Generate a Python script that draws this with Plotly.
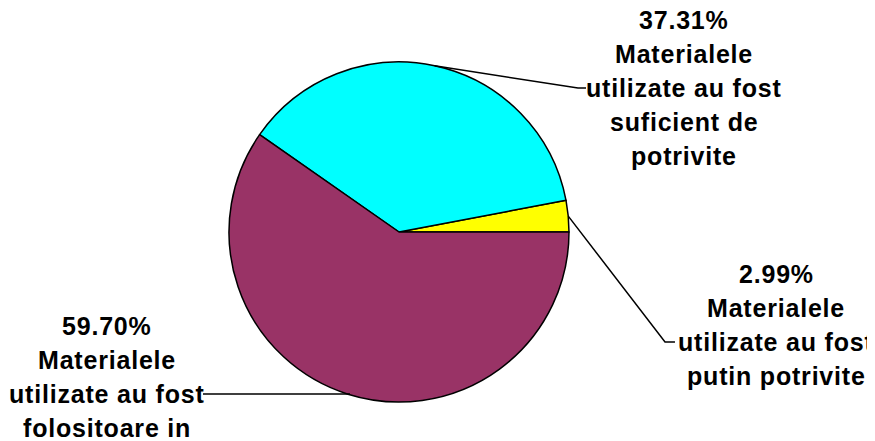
import math
import plotly.graph_objects as go

# ---- data ----
categories = [
    ["Materialele", "utilizate au fost", "putin potrivite"],
    ["Materialele", "utilizate au fost", "suficient de", "potrivite"],
    ["Materialele", "utilizate au fost", "folositoare in"],
]
counts = [2, 25, 40]
colors = ["#FFFF00", "#00FFFF", "#993366"]

# ---- layout constants (page pixels) ----
PAGE_W, PAGE_H = 875, 441
OFF = 8  # default body margin of the html page
W, H = PAGE_W - OFF, PAGE_H - OFF
CX, CY, R = 399, 232, 170
# label x-center and y of the line the leader points to (third line)
label_pos = [(776, 342), (684, 88), (107, 394)]
LINE_GAP = 34
elbows = [(665, 342), (578, 88), (350, 394)]
ends = [(675, 342), (586, 88), (203, 394)]

total = sum(counts)
pct = [100 * c / total for c in counts]


def px2paper(x, y):
    return (x - OFF) / W, 1 - (y - OFF) / H


x0, y1 = px2paper(CX - R, CY - R)
x1, y0 = px2paper(CX + R, CY + R)

fig = go.Figure(
    go.Pie(
        values=counts,
        labels=[" ".join(c) for c in categories],
        sort=False,
        direction="counterclockwise",
        rotation=90 - 360 * counts[0] / total,
        marker=dict(colors=colors, line=dict(color="black", width=1.5)),
        textinfo="none",
        hoverinfo="label+percent",
        showlegend=False,
        domain=dict(x=[x0, x1], y=[y0, y1]),
    )
)

font = dict(family="Liberation Sans, Arial, sans-serif", size=25, color="black")
annotations = []
shapes = []
start = 0.0
for i, c in enumerate(counts):
    ang = 360 * c / total
    mid = math.radians(start + ang / 2)
    start += ang
    sx, sy = CX + R * math.cos(mid), CY - R * math.sin(mid)
    ex, ey = elbows[i]
    fx, fy = ends[i]
    path = "M {:.4f},{:.4f} L {:.4f},{:.4f} L {:.4f},{:.4f}".format(
        *px2paper(sx, sy), *px2paper(ex, ey), *px2paper(fx, fy)
    )
    shapes.append(dict(type="path", xref="paper", yref="paper", path=path,
                       line=dict(color="black", width=1.5)))
    lines = ["{:.2f}%".format(pct[i])] + categories[i]
    lx, ly = label_pos[i]
    for k, line in enumerate(lines):
        ax, ay = px2paper(lx, ly + (k - 2) * LINE_GAP)
        annotations.append(dict(
            x=ax, y=ay, xref="paper", yref="paper", xanchor="center", yanchor="middle",
            text='<b><span style="letter-spacing:0.8px">{}</span></b>'.format(line),
            showarrow=False, font=font, align="center",
        ))

fig.update_layout(
    width=W, height=H,
    margin=dict(l=0, r=0, t=0, b=0),
    paper_bgcolor="white", plot_bgcolor="white",
    annotations=annotations, shapes=shapes,
)
fig.write_html("out.html")
